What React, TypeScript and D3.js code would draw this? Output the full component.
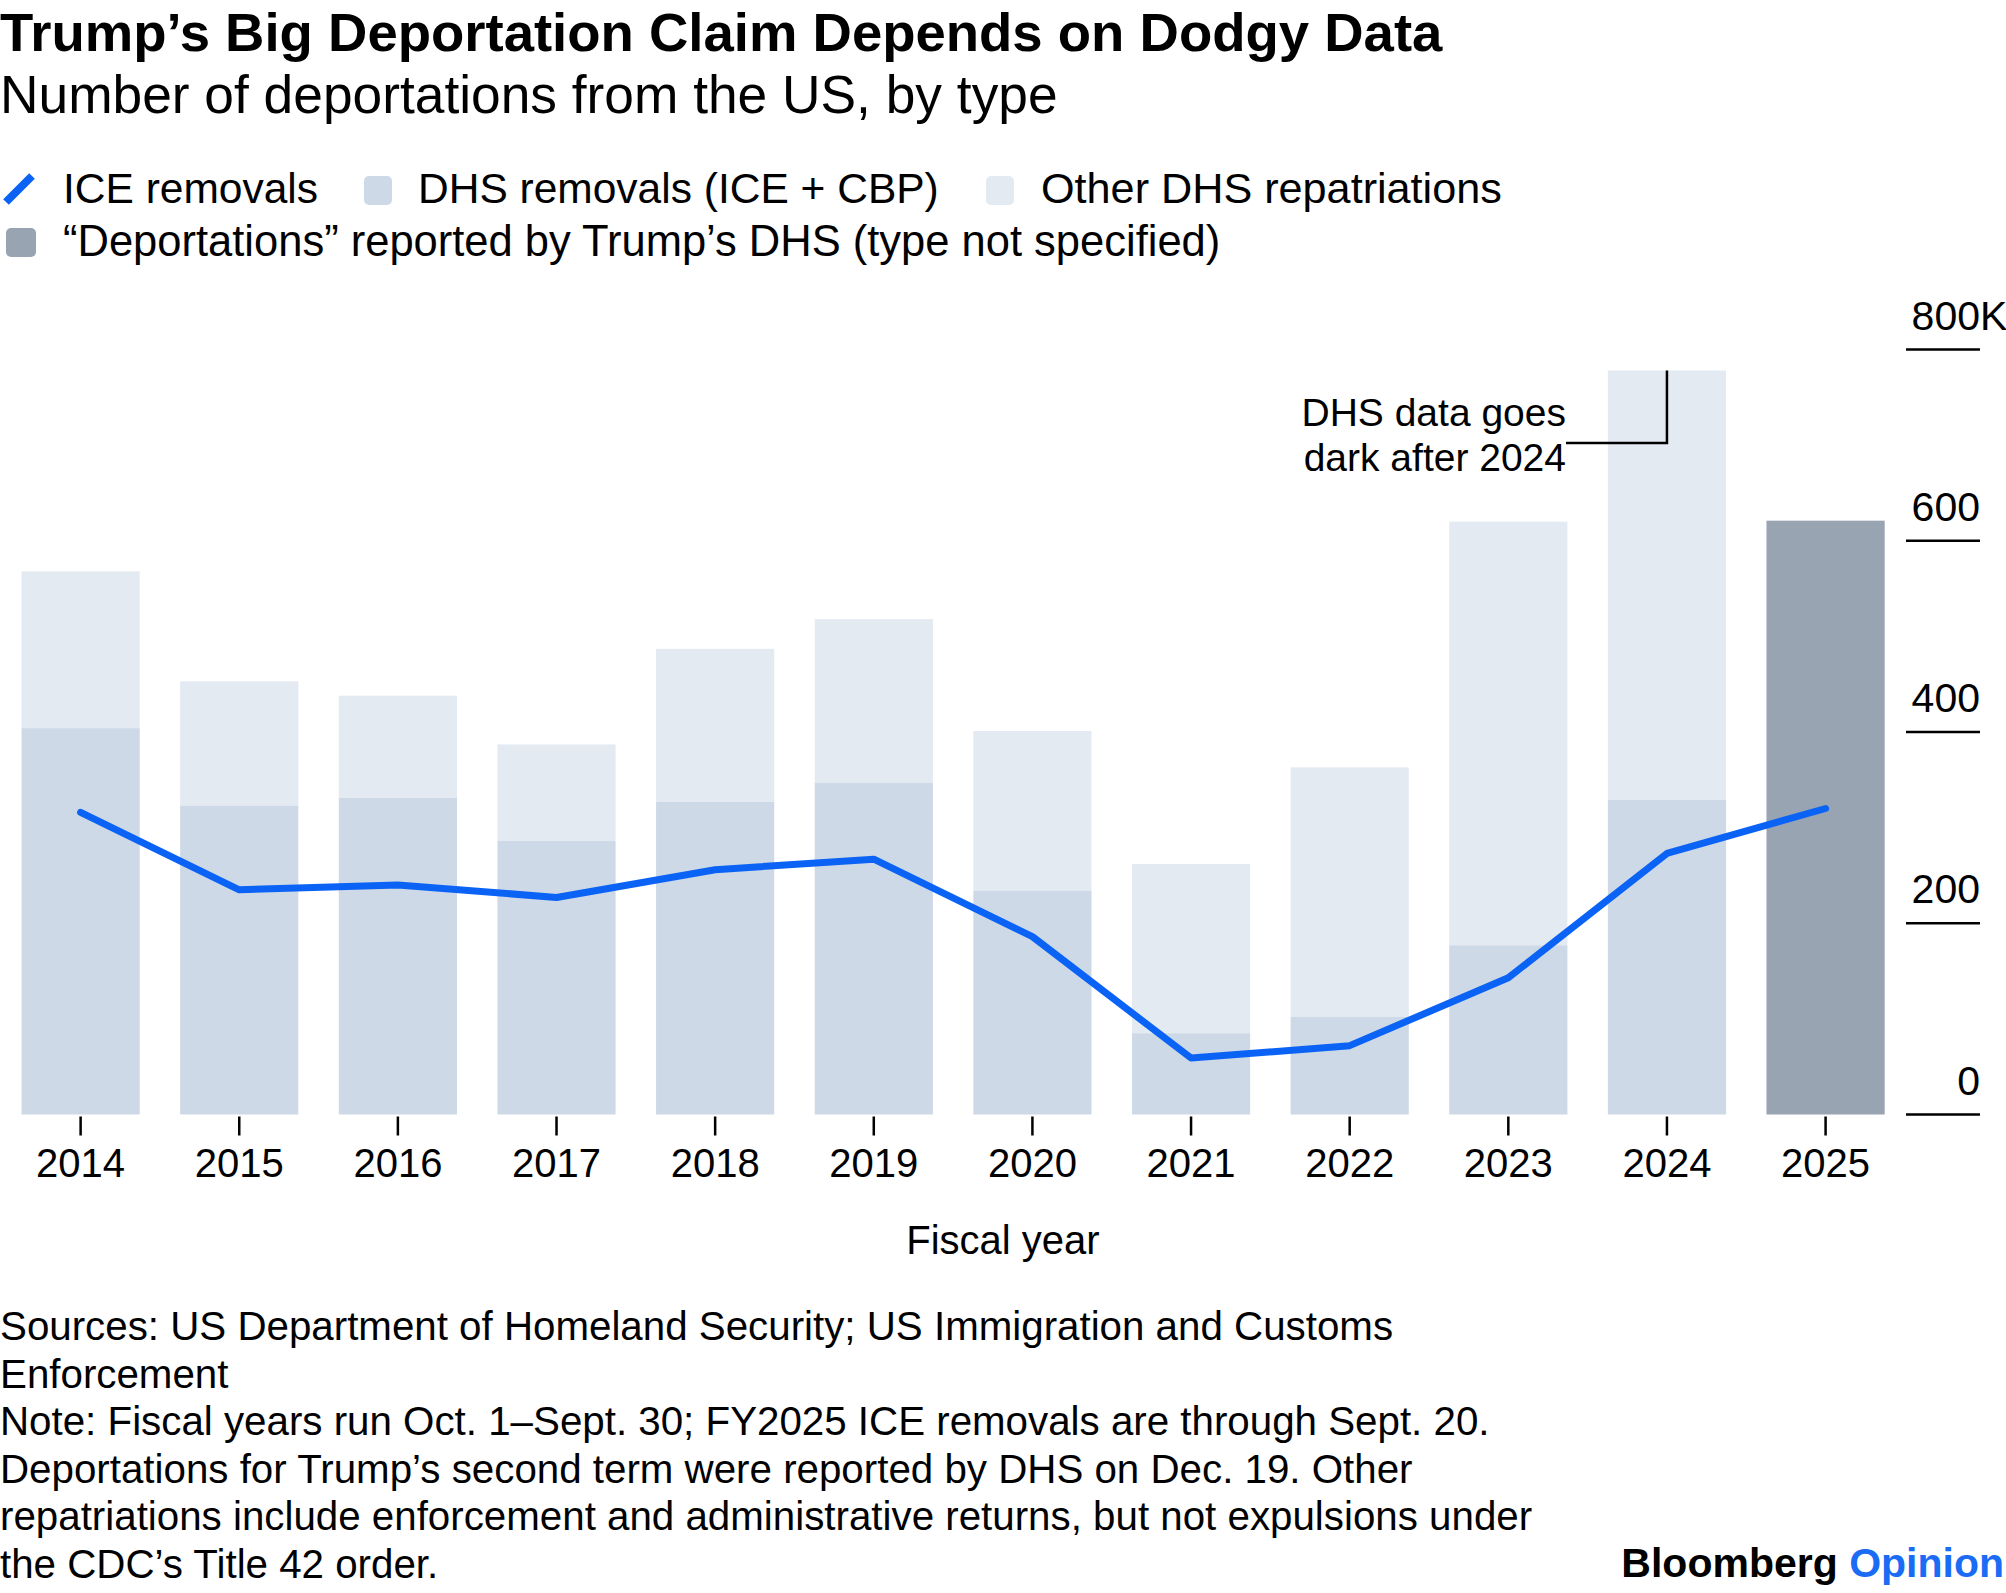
import { useEffect } from 'react';
import * as d3 from 'd3';

const years = ['2014', '2015', '2016', '2017', '2018', '2019', '2020', '2021', '2022', '2023', '2024', '2025'];
// thousands
const dhsRemovals = [404, 323, 331, 286, 327, 347, 234, 85, 102, 177, 329, null];
const otherRepatriations = [164, 130, 107, 101, 160, 171, 167, 177, 261, 443, 449, null];
const trumpDeportations = [null, null, null, null, null, null, null, null, null, null, null, 621];
const iceRemovals = [316, 235, 240, 227, 256, 267, 186, 59, 72, 143, 273, 320];
const yTicks = [0, 200, 400, 600, 800];

const footnotes = [
  'Sources: US Department of Homeland Security; US Immigration and Customs',
  'Enforcement',
  'Note: Fiscal years run Oct. 1\u2013Sept. 30; FY2025 ICE removals are through Sept. 20.',
  'Deportations for Trump\u2019s second term were reported by DHS on Dec. 19. Other',
  'repatriations include enforcement and administrative returns, but not expulsions under',
  'the CDC\u2019s Title 42 order.',
];

const W = 2006;
const H = 1593;
const FONT = '"Liberation Sans", Arial, Helvetica, sans-serif';
const BLUE = '#0b63f6';
const C_REM = '#cdd9e6';
const C_OTHER = '#e4eaf2';
const C_TRUMP = '#99a4b2';

export default function App() {
  useEffect(() => {
    document.body.style.margin = '0';
  }, []);

  const x = d3.scaleBand<string>()
    .domain(years)
    .range([1.3, 1904.9])
    .paddingInner(0.255)
    .paddingOuter(0.1275);
  const y = d3.scaleLinear().domain([0, 800]).range([1114.5, 349.5]);
  const bw = x.bandwidth();
  const cx = (yr: string) => (x(yr) ?? 0) + bw / 2;

  const line = d3.line<number>()
    .x((_, i) => cx(years[i]))
    .y(d => y(d));

  const axisX0 = 1906;
  const axisX1 = 1980;

  return (
    <svg width={W} height={H} style={{ display: 'block', position: 'absolute', left: 0, top: 0, background: '#fff' }}
      fontFamily={FONT}>
      <rect width={W} height={H} fill="#fff" />
      {/* header */}
      <text x={0} y={51} fontSize={54.5} fontWeight={700} fill="#000">Trump’s Big Deportation Claim Depends on Dodgy Data</text>
      <text x={0} y={113} fontSize={53.3} fill="#000">Number of deportations from the US, by type</text>

      {/* legend */}
      <line x1={6} y1={202} x2={32} y2={176} stroke={BLUE} strokeWidth={8} />
      <text x={63} y={203} fontSize={42.5}>ICE removals</text>
      <rect x={364} y={176} width={28} height={29} rx={5} fill={C_REM} />
      <text x={418} y={203} fontSize={42.5}>DHS removals (ICE + CBP)</text>
      <rect x={986} y={176} width={28} height={29} rx={5} fill={C_OTHER} />
      <text x={1041} y={203} fontSize={43.2}>Other DHS repatriations</text>
      <rect x={6} y={228} width={30} height={29} rx={5} fill={C_TRUMP} />
      <text x={63} y={256} fontSize={43.5}>“Deportations” reported by Trump’s DHS (type not specified)</text>

      {/* bars */}
      {years.map((yr, i) => {
        const rem = dhsRemovals[i];
        const oth = otherRepatriations[i];
        const tr = trumpDeportations[i];
        const x0 = x(yr) ?? 0;
        return (
          <g key={yr}>
            {rem != null && oth != null && (
              <rect x={x0} y={y(rem + oth)} width={bw} height={y(rem) - y(rem + oth)} fill={C_OTHER} />
            )}
            {rem != null && (
              <rect x={x0} y={y(rem)} width={bw} height={y(0) - y(rem)} fill={C_REM} />
            )}
            {tr != null && (
              <rect x={x0} y={y(tr)} width={bw} height={y(0) - y(tr)} fill={C_TRUMP} />
            )}
          </g>
        );
      })}

      {/* ICE line */}
      <path d={line(iceRemovals) ?? ''} fill="none" stroke={BLUE} strokeWidth={7}
        strokeLinejoin="round" strokeLinecap="round" />

      {/* annotation */}
      <text fontSize={39} textAnchor="end">
        <tspan x={1566} y={425.5}>DHS data goes</tspan>
        <tspan x={1566} y={470.5}>dark after 2024</tspan>
      </text>
      <polyline
        points={`1566,443 ${cx('2024')},443 ${cx('2024')},${y((dhsRemovals[10] ?? 0) + (otherRepatriations[10] ?? 0))}`}
        fill="none" stroke="#000" strokeWidth={2.5} />

      {/* x axis */}
      {years.map(yr => (
        <g key={'t' + yr}>
          <line x1={cx(yr)} x2={cx(yr)} y1={y(0) + 2} y2={y(0) + 21} stroke="#000" strokeWidth={2.5} />
          <text x={cx(yr)} y={1177} fontSize={40} textAnchor="middle">{yr}</text>
        </g>
      ))}
      <text x={1003} y={1254} fontSize={40} textAnchor="middle">Fiscal year</text>

      {/* y axis */}
      {yTicks.map(t => (
        <g key={'y' + t}>
          <line x1={axisX0} x2={axisX1} y1={y(t)} y2={y(t)} stroke="#000" strokeWidth={2.5} />
          <text x={axisX1} y={y(t) - 20} fontSize={41} textAnchor="end">{t}</text>
          {t === 800 && <text x={axisX1} y={y(t) - 20} fontSize={41}>K</text>}
        </g>
      ))}

      {/* footnotes */}
      {footnotes.map((f, i) => (
        <text key={i} x={0} y={1340 + i * 47.6} fontSize={40.3}>{f}</text>
      ))}
      <text x={2004} y={1577} fontSize={41} fontWeight={700} textAnchor="end">
        Bloomberg <tspan fill="#1a6cf5" fontWeight={600}>Opinion</tspan>
      </text>
    </svg>
  );
}
